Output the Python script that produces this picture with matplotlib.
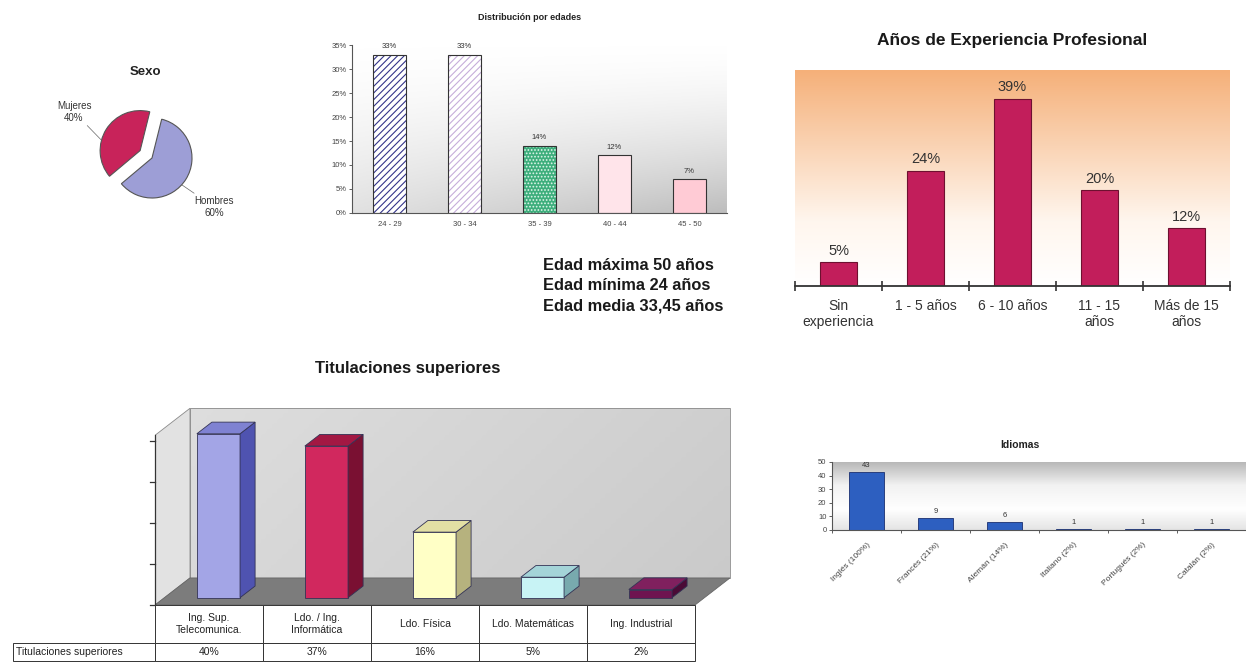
import matplotlib
matplotlib.use("Agg")
import matplotlib.pyplot as plt
import numpy as np
from matplotlib.colors import LinearSegmentedColormap
from matplotlib.patches import Polygon, Rectangle
from matplotlib.table import Table

plt.rcParams['font.family'] = ['Liberation Sans', 'DejaVu Sans']
plt.rcParams['hatch.linewidth'] = 0.8

W, H = 1246, 668

# datos
sexo_labels = ['Mujeres', 'Hombres']
sexo_values = [40, 60]

edad_labels = ['24 - 29', '30 - 34', '35 - 39', '40 - 44', '45 - 50']
edad_values = [33, 33, 14, 12, 7]
edad_resumen = ['Edad máxima 50 años', 'Edad mínima 24 años', 'Edad media 33,45 años']

exp_labels = ['Sin\nexperiencia', '1 - 5 años', '6 - 10 años', '11 - 15\naños', 'Más de 15\naños']
exp_values = [5, 24, 39, 20, 12]

tit_labels = ['Ing. Sup.\nTelecomunica.', 'Ldo. / Ing.\nInformática', 'Ldo. Física',
              'Ldo. Matemáticas', 'Ing. Industrial']
tit_values = [40, 37, 16, 5, 2]

idi_labels = ['Inglés (100%)', 'Francés (21%)', 'Alemán (14%)', 'Italiano (2%)',
              'Portugués (2%)', 'Catalán (2%)']
idi_values = [43, 9, 6, 1, 1, 1]


def px_axes(fig, l, t, r, b):
    return fig.add_axes([l / W, 1 - b / H, (r - l) / W, (b - t) / H])


def gradient_bg(ax, stops, extent, z=None):
    cmap = LinearSegmentedColormap.from_list('g', stops)
    if z is None:
        z = np.linspace(0, 1, 256)[:, None]
    ax.imshow(z, cmap=cmap, extent=extent, origin='lower', aspect='auto',
              zorder=0, vmin=0, vmax=1, interpolation='bilinear')


fig = plt.figure(figsize=(W / 100, H / 100), dpi=100)
fig.patch.set_facecolor('white')

# ---------------- Sexo (pie)
fig.text(145 / W, 1 - 72 / H, 'Sexo', ha='center', va='center', fontsize=9.5,
         fontweight='bold', color='#222222')
ax1 = px_axes(fig, 100, 106, 204, 210)
start = 76
ax1.pie(sexo_values, colors=['#C8235A', '#9D9ED6'], startangle=start,
        explode=[0.35, 0], wedgeprops=dict(edgecolor='#555555', linewidth=0.8))
ax1.set_xlim(-1.3, 1.3)
ax1.set_ylim(-1.3, 1.3)
mid_m = np.deg2rad(start + 360 * sexo_values[0] / 100 / 2)
a = np.deg2rad(165)
pm = (0.35 * np.cos(mid_m) + np.cos(a), 0.35 * np.sin(mid_m) + np.sin(a))
ax1.annotate(f'{sexo_labels[0]}\n{sexo_values[0]}%', xy=pm, xytext=(-1.95, 1.15),
             ha='center', va='center', fontsize=7, color='#333333',
             annotation_clip=False,
             arrowprops=dict(arrowstyle='-', color='#666666', lw=0.5, shrinkA=0, shrinkB=0))
b = np.deg2rad(-42)
ax1.annotate(f'{sexo_labels[1]}\n{sexo_values[1]}%', xy=(np.cos(b), np.sin(b)),
             xytext=(1.55, -1.22), ha='center', va='center', fontsize=7,
             color='#333333', annotation_clip=False,
             arrowprops=dict(arrowstyle='-', color='#666666', lw=0.5, shrinkA=0, shrinkB=0))

# ---------------- Distribución por edades
fig.text(530 / W, 1 - 18 / H, 'Distribución por edades', ha='center', va='center',
         fontsize=6.5, fontweight='bold', color='#222222')
ax2 = px_axes(fig, 352, 45, 727, 213)
n = len(edad_values)
yy, xx = np.mgrid[0:1:200j, 0:1:200j]
shade = (1 - yy) ** 1.6 * (0.45 + 0.55 * xx)
gradient_bg(ax2, [(0, '#FFFFFF'), (1, '#BDBDBD')], [-0.5, n - 0.5, 0, 36], z=shade)
x = np.arange(n)
faces = ['#FFFFFF', '#FFFFFF', '#3DAE7C', '#FFE4EA', '#FFCBD5']
hatch_col = ['#34348A', '#C6ADDA', '#DFF5EA', '#FFE4EA', '#FFCBD5']
hatches = ['/////', '/////', '.....', None, None]
for i in range(n):
    ax2.bar(x[i], edad_values[i], width=0.43, color=faces[i], edgecolor=hatch_col[i],
            hatch=hatches[i], linewidth=0, zorder=2)
ax2.bar(x, edad_values, width=0.43, fill=False, edgecolor='#333333', linewidth=0.8, zorder=3)
for i, v in enumerate(edad_values):
    ax2.text(x[i], v + 1.0, f'{v}%', ha='center', va='bottom', fontsize=5.5, color='#333333')
ax2.set_xlim(-0.5, n - 0.5)
ax2.set_ylim(0, 35)
ax2.set_yticks(np.arange(0, 36, 5))
ax2.set_yticklabels([f'{t}%' for t in range(0, 36, 5)])
ax2.set_xticks(x)
ax2.set_xticklabels(edad_labels)
ax2.tick_params(axis='y', labelsize=5.5, length=2, width=0.6, colors='#444444', pad=2)
ax2.tick_params(axis='x', labelsize=5.5, length=0, colors='#444444', pad=6)
for s in ['top', 'right']:
    ax2.spines[s].set_visible(False)
for s in ['left', 'bottom']:
    ax2.spines[s].set_color('#555555')
    ax2.spines[s].set_linewidth(0.8)

for k, t in enumerate(edad_resumen):
    fig.text(543 / W, 1 - (266 + 20 * k) / H, t, ha='left', va='center',
             fontsize=11.8, fontweight='bold', color='#1A1A1A')

# ---------------- Años de experiencia
fig.text(1012 / W, 1 - 40 / H, 'Años de Experiencia Profesional', ha='center',
         va='center', fontsize=12.5, fontweight='bold', color='#1A1A1A')
ax3 = px_axes(fig, 795, 70, 1230, 286)
m = len(exp_values)
gradient_bg(ax3, [(0, '#FFFFFF'), (0.3, '#FFF6EE'), (1, '#F5B079')], [-0.5, m - 0.5, 0, 45])
x3 = np.arange(m)
ax3.bar(x3, exp_values, width=0.42, color='#C21E5B', edgecolor='#6E1030',
        linewidth=0.8, zorder=2)
for i, v in enumerate(exp_values):
    ax3.text(x3[i], v + 0.9, f'{v}%', ha='center', va='bottom', fontsize=10.5, color='#333333')
ax3.set_xlim(-0.5, m - 0.5)
ax3.set_ylim(0, 45)
ax3.set_yticks([])
ax3.set_xticks(x3)
ax3.set_xticklabels(exp_labels)
ax3.set_xticks(np.arange(-0.5, m), minor=True)
ax3.tick_params(axis='x', which='major', length=0, labelsize=10, colors='#333333', pad=9)
ax3.tick_params(axis='x', which='minor', length=7, width=1.2, direction='inout', color='#333333')
for s in ['top', 'right', 'left']:
    ax3.spines[s].set_visible(False)
ax3.spines['bottom'].set_color('#333333')
ax3.spines['bottom'].set_linewidth(1.3)

# ---------------- Titulaciones superiores (3D simulado)
fig.text(408 / W, 1 - 368 / H, 'Titulaciones superiores', ha='center', va='center',
         fontsize=12, fontweight='bold', color='#1A1A1A')
ax4 = px_axes(fig, 155, 405, 745, 605)
k = len(tit_values)
DX, DY = 0.324, 6.6
top_w = 48.0
ax4.set_xlim(-0.5, 4.963)
ax4.set_ylim(0, 48.8)
ax4.axis('off')
yy4, xx4 = np.mgrid[0:1:100j, 0:1:100j]
wall = 0.35 + 0.45 * xx4 - 0.15 * yy4
ax4.imshow(np.clip(wall, 0, 1), cmap=LinearSegmentedColormap.from_list('w', ['#E4E4E4', '#C4C4C4']),
           extent=[-0.5 + DX, k - 0.5 + DX, DY, top_w], origin='lower', aspect='auto',
           zorder=1, vmin=0, vmax=1)
ax4.add_patch(Rectangle((-0.5 + DX, DY), k + 0.0, top_w - DY, fill=False,
                        edgecolor='#8A8A8A', lw=0.6, zorder=1))
ax4.add_patch(Polygon([(-0.5, 0), (-0.5 + DX, DY), (-0.5 + DX, top_w), (-0.5, top_w - DY)],
                      closed=True, facecolor='#E2E2E2', edgecolor='#8A8A8A', lw=0.6, zorder=1))
ax4.add_patch(Polygon([(-0.5, 0), (k - 0.5, 0), (k - 0.5 + DX, DY), (-0.5 + DX, DY)],
                      closed=True, facecolor='#7C7C7C', edgecolor='#666666', lw=0.6, zorder=1))
ax4.set_xlim(-0.5, 4.963)
ax4.set_ylim(0, 48.8)
ax4.plot([-0.5, -0.5], [0, top_w - DY], color='#333333', lw=0.9, zorder=5, clip_on=False)
for t in range(0, 41, 10):
    ax4.plot([-0.545, -0.5], [t, t], color='#333333', lw=0.9, zorder=5, clip_on=False)

front = ['#A3A5E6', '#D1285E', '#FFFFC6', '#C8F3F5', '#6E1450']
side = ['#4F53B0', '#7A1032', '#B6B27E', '#78AAAE', '#4A0A36']
topc = ['#7F82D2', '#A31843', '#E2DFA4', '#A4D4D8', '#80205E']
f, d, bw = 0.27, 0.43, 0.40
for i, v in enumerate(tit_values):
    x0 = i + f * DX - bw / 2
    y0 = f * DY
    ax4.add_patch(Rectangle((x0, y0), bw, v, facecolor=front[i], edgecolor='#333355',
                            lw=0.6, zorder=3))
    ax4.add_patch(Polygon([(x0 + bw, y0), (x0 + bw + d * DX, y0 + d * DY),
                           (x0 + bw + d * DX, y0 + v + d * DY), (x0 + bw, y0 + v)],
                          closed=True, facecolor=side[i], edgecolor='#333355', lw=0.6, zorder=3))
    ax4.add_patch(Polygon([(x0, y0 + v), (x0 + bw, y0 + v), (x0 + bw + d * DX, y0 + v + d * DY),
                           (x0 + d * DX, y0 + v + d * DY)],
                          closed=True, facecolor=topc[i], edgecolor='#333355', lw=0.6, zorder=3))

# tabla
ax5 = px_axes(fig, 13, 605, 695, 661)
ax5.axis('off')
tb = Table(ax5, bbox=[0, 0, 1, 1])
for j, lab in enumerate(tit_labels):
    tb.add_cell(0, j + 1, width=108, height=38, text=lab, loc='center',
                edgecolor='#333333', facecolor='white')
tb.add_cell(1, 0, width=142, height=18, text='Titulaciones superiores', loc='left',
            edgecolor='#333333', facecolor='white')
for j, v in enumerate(tit_values):
    tb.add_cell(1, j + 1, width=108, height=18, text=f'{v}%', loc='center',
                edgecolor='#333333', facecolor='white')
tb.auto_set_font_size(False)
tb.set_fontsize(7.5)
for c in tb.get_celld().values():
    c.set_linewidth(0.7)
    c.get_text().set_color('#222222')
tb[1, 0].PAD = 0.02
ax5.add_table(tb)

# ---------------- Idiomas
fig.text(1020 / W, 1 - 445 / H, 'Idiomas', ha='center', va='center', fontsize=7.5,
         fontweight='bold', color='#222222')
ax6 = px_axes(fig, 832, 462, 1246, 530)
q = len(idi_values)
gradient_bg(ax6, [(0, '#E4E4E4'), (0.3, '#FFFFFF'), (0.65, '#F2F2F2'), (1, '#B5B5B5')],
            [-0.5, q - 0.5, 0, 50])
x6 = np.arange(q)
ax6.bar(x6, idi_values, width=0.52, color='#2D5FC0', edgecolor='#1A2F70', linewidth=0.6,
        zorder=2)
for i, v in enumerate(idi_values):
    ax6.text(x6[i], v + 2, str(v), ha='center', va='bottom', fontsize=5.5, color='#333333')
ax6.set_xlim(-0.5, q - 0.5)
ax6.set_ylim(0, 50)
ax6.set_yticks(np.arange(0, 51, 10))
ax6.set_xticks(x6)
ax6.set_xticklabels(idi_labels, rotation=45, ha='right', rotation_mode='anchor')
ax6.set_xticks(np.arange(-0.5, q), minor=True)
ax6.tick_params(axis='y', labelsize=5.5, length=2, width=0.6, colors='#444444', pad=2)
ax6.tick_params(axis='x', which='major', labelsize=6, length=0, colors='#444444', pad=8)
ax6.tick_params(axis='x', which='minor', length=2, width=0.6, color='#444444')
for s in ['top', 'right']:
    ax6.spines[s].set_visible(False)
for s in ['left', 'bottom']:
    ax6.spines[s].set_color('#555555')
    ax6.spines[s].set_linewidth(0.8)

fig.savefig('out.png', dpi=100, facecolor='white')
